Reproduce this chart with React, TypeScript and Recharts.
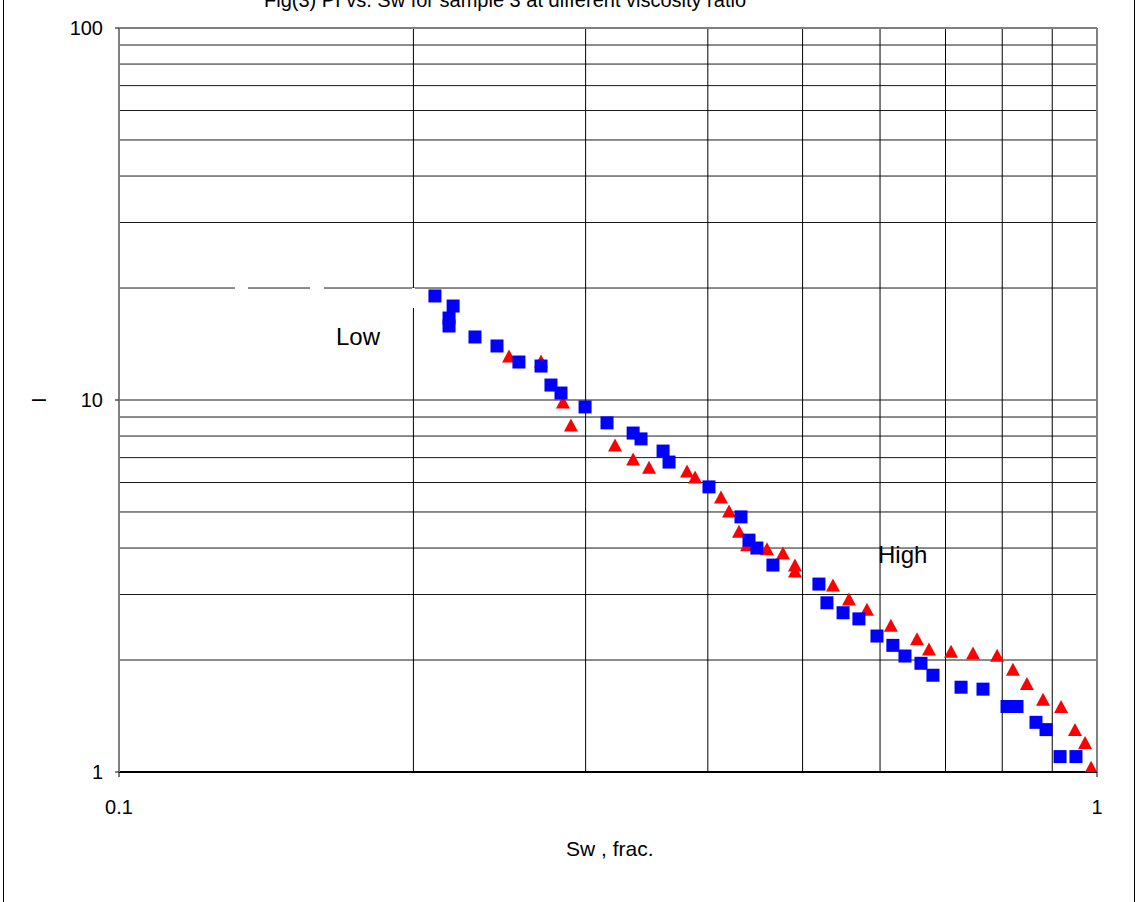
import {
  ScatterChart,
  Scatter,
  XAxis,
  YAxis,
  ReferenceLine,
} from 'recharts';

// Sw (fraction) and PI readings, square series
const squareSw = [
  0.2104, 0.2196, 0.2175, 0.2175, 0.2312, 0.2435, 0.2564, 0.2701, 0.2765, 0.2831,
  0.2996, 0.3155, 0.3355, 0.3418, 0.36, 0.3651, 0.4011, 0.4325, 0.4407, 0.449,
  0.4663, 0.5196, 0.5295, 0.55, 0.5709, 0.5957, 0.6184, 0.6363, 0.6607, 0.6796,
  0.7261, 0.7646, 0.8091, 0.8283, 0.8662, 0.8869, 0.9167, 0.9517,
];
const squarePi = [
  19.04, 17.89, 16.61, 15.81, 14.77, 13.97, 12.65, 12.34, 10.97, 10.44,
  9.58, 8.68, 8.15, 7.86, 7.29, 6.81, 5.84, 4.85, 4.2, 4.0,
  3.6, 3.2, 2.85, 2.68, 2.58, 2.32, 2.19, 2.05, 1.96, 1.82,
  1.69, 1.67, 1.5, 1.5, 1.36, 1.3, 1.1, 1.1,
];

// triangle series
const triangleSw = [
  0.2505, 0.2701, 0.2844, 0.2898, 0.3215, 0.3355, 0.3483, 0.3809, 0.3882, 0.4126,
  0.4205, 0.4305, 0.4387, 0.4598, 0.4774, 0.4911, 0.4911, 0.5371, 0.5577, 0.5818,
  0.6155, 0.6546, 0.6733, 0.7092, 0.7468, 0.7904, 0.8204, 0.8479, 0.8807, 0.9189,
  0.9495, 0.9723, 0.9862,
];
const trianglePi = [
  13.13, 12.73, 9.88, 8.57, 7.57, 6.94, 6.6, 6.44, 6.21, 5.49,
  5.03, 4.44, 4.08, 3.98, 3.88, 3.6, 3.47, 3.18, 2.92, 2.74,
  2.48, 2.28, 2.14, 2.11, 2.09, 2.06, 1.89, 1.73, 1.57, 1.5,
  1.3, 1.2, 1.03,
];

const xTicks = [0.1, 1];
const yTicks = [1, 10, 100];
const xGrid = [0.2, 0.3, 0.4, 0.5, 0.6, 0.7, 0.8, 0.9];
const yGrid = [2, 3, 4, 5, 6, 7, 8, 9, 10, 20, 30, 40, 50, 60, 70, 80, 90];

// white gaps left by the hidden legend sample line
const gapSegments = [
  [{ x: 0.1314, y: 20 }, { x: 0.1355, y: 20 }],
  [{ x: 0.1568, y: 20 }, { x: 0.162, y: 20 }],
  [{ x: 0.2, y: 20 }, { x: 0.2, y: 17.67 }],
];

const squareData = squareSw.map((sw, i) => ({ sw, pi: squarePi[i] }));
const triangleData = triangleSw.map((sw, i) => ({ sw, pi: trianglePi[i] }));

const FONT = '"Liberation Sans", Arial, sans-serif';

const SquareMark = ({ cx, cy }: any) => (
  <rect x={cx - 6.5} y={cy - 6.5} width={13} height={13} fill="#0000ff" />
);

const TriangleMark = ({ cx, cy }: any) => (
  <polygon
    points={`${cx},${cy - 6.5} ${cx - 7},${cy + 6.5} ${cx + 7},${cy + 6.5}`}
    fill="#ff0000"
  />
);

const abs = (left: number, top: number, size: number, extra: any = {}) => ({
  position: 'absolute' as const,
  left,
  top,
  fontSize: size,
  fontFamily: FONT,
  color: '#000',
  whiteSpace: 'nowrap' as const,
  lineHeight: 1,
  ...extra,
});

export default function App() {
  return (
    <div style={{ position: 'absolute', left: 0, top: 0, width: 1136, height: 902, background: '#fff', overflow: 'hidden' }}>
      <div style={{ position: 'absolute', left: 3, top: 0, width: 1, height: 902, background: '#000' }} />
      <div style={{ position: 'absolute', left: 1134, top: 0, width: 1, height: 902, background: '#000' }} />
      <div style={abs(264, -10, 20)}>Fig(3) PI vs. Sw for sample 3 at different viscosity ratio</div>
      <div style={abs(32, 386, 25)}>–</div>
      <div style={abs(336, 325, 24)}>Low</div>
      <div style={abs(878, 543, 24)}>High</div>
      <div style={abs(566, 838, 21)}>Sw , frac.</div>
      <ScatterChart
        width={1136}
        height={902}
        margin={{ top: 28, right: 39, bottom: 70, left: 59 }}
        style={{ position: 'absolute', left: 0, top: 0 }}
      >
        <XAxis
          dataKey="sw"
          type="number"
          scale="log"
          domain={[0.1, 1]}
          ticks={xTicks}
          allowDataOverflow
          height={60}
          tickSize={5}
          tickMargin={23}
          tick={{ fontSize: 20, fill: '#000', fontFamily: FONT }}
          tickFormatter={(v) => String(v)}
          axisLine={{ stroke: '#000', strokeWidth: 2 }}
          tickLine={{ stroke: '#000' }}
        />
        <YAxis
          dataKey="pi"
          type="number"
          scale="log"
          domain={[1, 100]}
          ticks={yTicks}
          allowDataOverflow
          width={60}
          tickSize={4}
          tickMargin={12}
          tick={{ fontSize: 20, fill: '#000', fontFamily: FONT }}
          tickFormatter={(v) => String(v)}
          axisLine={{ stroke: '#808080', strokeWidth: 2 }}
          tickLine={{ stroke: '#000' }}
        />
        {yGrid.map((v) => (
          <ReferenceLine key={`y${v}`} y={v} stroke="#1a1a1a" strokeWidth={1} />
        ))}
        {xGrid.map((v) => (
          <ReferenceLine key={`x${v}`} x={v} stroke="#000" strokeWidth={1} />
        ))}
        <ReferenceLine y={100} stroke="#808080" strokeWidth={2} />
        <ReferenceLine x={1} stroke="#808080" strokeWidth={2} />
        {gapSegments.map((seg, i) => (
          <ReferenceLine key={`g${i}`} segment={seg} stroke="#fff" strokeWidth={3} />
        ))}
        <Scatter data={triangleData} shape={<TriangleMark />} isAnimationActive={false} />
        <Scatter data={squareData} shape={<SquareMark />} isAnimationActive={false} />
      </ScatterChart>
    </div>
  );
}
